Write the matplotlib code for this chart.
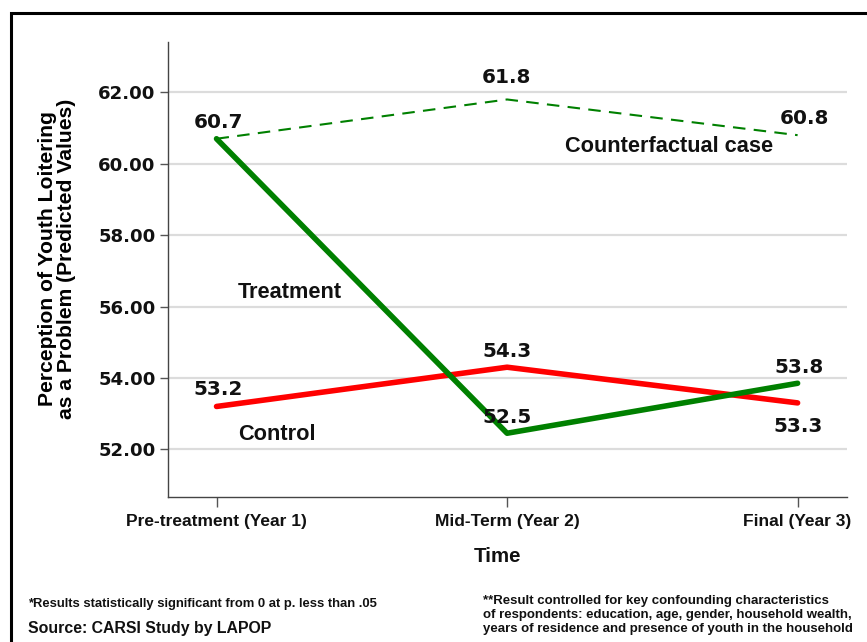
import matplotlib
matplotlib.use("Agg")
import matplotlib.pyplot as plt
from matplotlib.patches import Rectangle

# ---- data ----
periods = ["Pre-treatment (Year 1)", "Mid-Term (Year 2)", "Final (Year 3)"]
treatment = [60.7, 52.45, 53.85]
control = [53.2, 54.3, 53.3]
counterfactual = [60.7, 61.8, 60.8]
treatment_labels = ["60.7", "52.5", "53.8"]
control_labels = ["53.2", "54.3", "53.3"]
counterfactual_labels = ["60.7", "61.8", "60.8"]
yticks = [52, 54, 56, 58, 60, 62]

W, H = 867, 642
fig = plt.figure(figsize=(W / 100, H / 100), dpi=100)
fig.patch.set_facecolor("white")

def fx(px):
    return px / W

def fy(py):
    return 1 - py / H

# outer frame (extends beyond the right and bottom edges)
fig.add_artist(Rectangle((fx(11), fy(700)), fx(1000), fy(13) - fy(700),
                         transform=fig.transFigure, fill=False,
                         edgecolor="black", linewidth=2.2))

ax = fig.add_axes([fx(168), fy(497), fx(847) - fx(168), fy(42) - fy(497)])
x = list(range(len(periods)))

ax.set_xlim(-0.167, 2.170)
ax.set_ylim(50.664, 63.41)

for v in yticks:
    ax.axhline(v, color="#dcdcdc", linewidth=1.6, zorder=0)

ax.plot(x, counterfactual, color="#008000", linewidth=1.5, linestyle=(0, (6, 4)), zorder=2)
ax.plot(x, control, color="#ff0000", linewidth=4, solid_capstyle="round", zorder=3)
ax.plot(x, treatment, color="#008000", linewidth=4, solid_capstyle="round", zorder=4)

lab_font = dict(family="DejaVu Sans", fontweight="bold", fontsize=14.4, color="#111111")

def label(xi, yi, txt, dx, dy):
    ax.annotate(txt, (xi, yi), xytext=(dx, dy), textcoords="offset pixels",
                ha="center", va="center", zorder=6, **lab_font)

cf_off = [(2, 16), (-1, 22), (7, 17)]
tr_off = [(0, 0), (0, 16), (1, 16)]
co_off = [(2, 17), (0, 16), (1, -24)]
for i in x:
    label(i, counterfactual[i], counterfactual_labels[i], *cf_off[i])
    if i > 0:
        label(i, treatment[i], treatment_labels[i], *tr_off[i])
    label(i, control[i], control_labels[i], *co_off[i])

ax.set_yticks(yticks)
ax.set_yticklabels([f"{v:.2f}" for v in yticks], family="DejaVu Sans",
                   fontweight="bold", fontsize=13.1, color="#111111")
ax.set_xticks(x)
ax.set_xticklabels(periods, family="Liberation Sans", fontweight="bold",
                   fontsize=12.5, color="#111111")
ax.tick_params(axis="y", length=6, width=1, color="#555555", pad=3)
ax.tick_params(axis="x", length=7, width=1, color="#555555", pad=5)

for s in ["top", "right"]:
    ax.spines[s].set_visible(False)
for s in ["left", "bottom"]:
    ax.spines[s].set_color("#444444")
    ax.spines[s].set_linewidth(1.0)

# axis titles
fig.text(fx(57), fy(259), "Perception of Youth Loitering\nas a Problem (Predicted Values)",
         rotation=90, ha="center", va="center", family="Liberation Sans",
         fontweight="bold", fontsize=15.2, linespacing=1.0, color="#000000")
fig.text(fx(497), fy(557), "Time", ha="center", va="center", family="Liberation Sans",
         fontweight="bold", fontsize=14.8, color="#111111")

# series names
series_font = dict(family="Liberation Sans", fontweight="bold", fontsize=15.7, color="#111111")
fig.text(fx(669), fy(147), "Counterfactual case", ha="center", va="center", **series_font)
fig.text(fx(290), fy(293), "Treatment", ha="center", va="center", **series_font)
fig.text(fx(277), fy(435), "Control", ha="center", va="center", **series_font)

# footnotes
fig.text(fx(28), fy(604), "*Results statistically significant from 0 at p. less than .05",
         ha="left", va="center", family="Liberation Sans", fontweight="bold",
         fontsize=9.4, color="#111111")
fig.text(fx(28), fy(628), "Source: CARSI Study by LAPOP", ha="left", va="center",
         family="Liberation Sans", fontweight="bold", fontsize=11.4, color="#111111")
fig.text(fx(483), fy(615),
         "**Result controlled for key confounding characteristics\n"
         "of respondents: education, age, gender, household wealth,\n"
         "years of residence and presence of youth in the household",
         ha="left", va="center", family="Liberation Sans", fontweight="bold",
         fontsize=9.5, linespacing=1.2, color="#111111")

fig.savefig("out.png", dpi=100)
